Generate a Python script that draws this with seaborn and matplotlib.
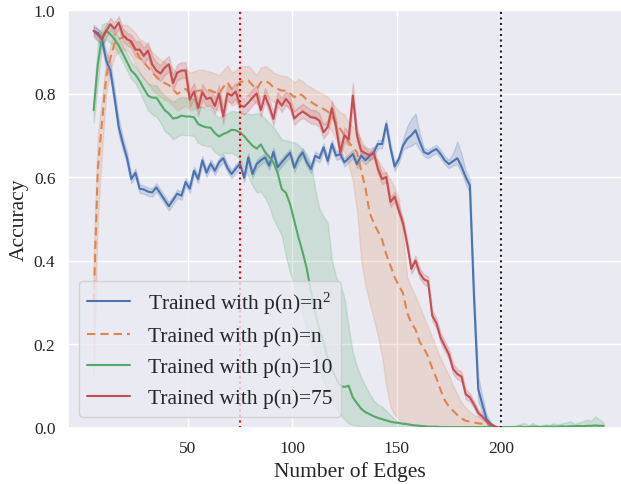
import numpy as np
import pandas as pd
import matplotlib
matplotlib.use("Agg")
import matplotlib.pyplot as plt
import seaborn as sns

# ---------------- data ----------------
x_main = list(range(5, 200, 2))      # 5 .. 199
x_green = list(range(5, 250, 2))     # 5 .. 249

labels = ["Trained with p(n)=n$^2$", "Trained with p(n)=n",
          "Trained with p(n)=10", "Trained with p(n)=75"]
colors = ["#4C72B0", "#DD8452", "#55A868", "#C44E52"]

blue_mean = [0.950, 0.945, 0.930, 0.880, 0.855, 0.790, 0.720, 0.680, 0.645, 0.595,
             0.610, 0.572, 0.570, 0.565, 0.563, 0.575, 0.560, 0.545, 0.530, 0.545,
             0.560, 0.555, 0.588, 0.572, 0.615, 0.595, 0.640, 0.610, 0.632, 0.615,
             0.635, 0.645, 0.622, 0.607, 0.620, 0.632, 0.598, 0.647, 0.607, 0.631,
             0.640, 0.647, 0.627, 0.660, 0.623, 0.635, 0.647, 0.658, 0.622, 0.645,
             0.659, 0.635, 0.619, 0.651, 0.645, 0.671, 0.638, 0.679, 0.651, 0.655,
             0.635, 0.645, 0.655, 0.631, 0.651, 0.640, 0.650, 0.659, 0.679, 0.679,
             0.727, 0.670, 0.625, 0.643, 0.675, 0.691, 0.700, 0.712, 0.685, 0.660,
             0.655, 0.662, 0.667, 0.655, 0.640, 0.631, 0.638, 0.645, 0.625, 0.600,
             0.580, 0.310, 0.092, 0.055, 0.020, 0.008, 0.002, 0.000]
blue_up = [0.010, 0.010, 0.015, 0.020, 0.020, 0.020, 0.020, 0.015, 0.015, 0.010,
           0.010, 0.010, 0.010, 0.010, 0.010, 0.010, 0.010, 0.010, 0.010, 0.010,
           0.010, 0.010, 0.010, 0.010, 0.010, 0.010, 0.010, 0.010, 0.010, 0.010,
           0.010, 0.010, 0.010, 0.010, 0.010, 0.010, 0.010, 0.010, 0.010, 0.010,
           0.010, 0.010, 0.010, 0.010, 0.010, 0.010, 0.010, 0.010, 0.010, 0.010,
           0.010, 0.010, 0.010, 0.010, 0.010, 0.010, 0.010, 0.010, 0.010, 0.010,
           0.010, 0.010, 0.010, 0.010, 0.010, 0.010, 0.010, 0.010, 0.010, 0.010,
           0.010, 0.010, 0.010, 0.010, 0.015, 0.030, 0.040, 0.040, 0.020, 0.010,
           0.010, 0.010, 0.010, 0.010, 0.010, 0.010, 0.020, 0.040, 0.030, 0.015,
           0.015, 0.030, 0.030, 0.020, 0.010, 0.005, 0.002, 0.000]
blue_dn = [0.010, 0.015, 0.020, 0.020, 0.020, 0.020, 0.020, 0.015, 0.015, 0.010,
           0.010, 0.010, 0.010, 0.010, 0.010, 0.010, 0.010, 0.010, 0.010, 0.010,
           0.010, 0.010, 0.010, 0.010, 0.010, 0.010, 0.010, 0.010, 0.010, 0.010,
           0.010, 0.010, 0.010, 0.010, 0.010, 0.010, 0.010, 0.010, 0.010, 0.010,
           0.010, 0.010, 0.010, 0.010, 0.010, 0.010, 0.010, 0.010, 0.010, 0.010,
           0.010, 0.010, 0.010, 0.010, 0.010, 0.010, 0.010, 0.010, 0.010, 0.010,
           0.010, 0.010, 0.010, 0.010, 0.010, 0.010, 0.010, 0.010, 0.010, 0.010,
           0.010, 0.010, 0.010, 0.010, 0.010, 0.020, 0.025, 0.030, 0.020, 0.010,
           0.010, 0.010, 0.010, 0.010, 0.010, 0.010, 0.010, 0.015, 0.015, 0.015,
           0.020, 0.030, 0.030, 0.020, 0.010, 0.005, 0.002, 0.000]

orange_mean = [0.300, 0.620, 0.730, 0.840, 0.885, 0.920, 0.930, 0.935, 0.934, 0.920,
               0.905, 0.885, 0.875, 0.863, 0.850, 0.840, 0.831, 0.825, 0.820, 0.810,
               0.799, 0.805, 0.811, 0.800, 0.803, 0.807, 0.807, 0.809, 0.807, 0.803,
               0.799, 0.815, 0.827, 0.811, 0.815, 0.827, 0.830, 0.831, 0.820, 0.810,
               0.827, 0.831, 0.825, 0.815, 0.811, 0.807, 0.807, 0.800, 0.791, 0.800,
               0.795, 0.785, 0.780, 0.773, 0.768, 0.763, 0.757, 0.745, 0.730, 0.715,
               0.700, 0.683, 0.672, 0.659, 0.615, 0.575, 0.515, 0.490, 0.470, 0.450,
               0.415, 0.388, 0.360, 0.340, 0.322, 0.275, 0.250, 0.235, 0.205, 0.190,
               0.170, 0.142, 0.118, 0.090, 0.065, 0.050, 0.040, 0.030, 0.022, 0.016,
               0.014, 0.012, 0.010, 0.009, 0.008, 0.005, 0.002, 0.000]
orange_up = [0.120, 0.080, 0.060, 0.040, 0.030, 0.030, 0.030, 0.030, 0.030, 0.035,
             0.040, 0.045, 0.050, 0.050, 0.050, 0.050, 0.050, 0.050, 0.050, 0.050,
             0.050, 0.050, 0.050, 0.050, 0.050, 0.050, 0.050, 0.045, 0.045, 0.045,
             0.045, 0.040, 0.040, 0.040, 0.040, 0.040, 0.035, 0.035, 0.035, 0.035,
             0.035, 0.035, 0.035, 0.035, 0.035, 0.035, 0.035, 0.035, 0.035, 0.035,
             0.035, 0.035, 0.035, 0.035, 0.035, 0.035, 0.035, 0.035, 0.035, 0.040,
             0.050, 0.047, 0.048, 0.051, 0.075, 0.095, 0.145, 0.160, 0.170, 0.175,
             0.195, 0.207, 0.215, 0.210, 0.138, 0.085, 0.085, 0.080, 0.085, 0.075,
             0.070, 0.073, 0.072, 0.075, 0.080, 0.075, 0.060, 0.050, 0.038, 0.032,
             0.024, 0.018, 0.015, 0.011, 0.007, 0.005, 0.002, 0.000]
orange_dn = [0.180, 0.120, 0.070, 0.040, 0.030, 0.030, 0.030, 0.030, 0.030, 0.030,
             0.035, 0.035, 0.040, 0.040, 0.040, 0.040, 0.040, 0.040, 0.040, 0.040,
             0.040, 0.040, 0.040, 0.040, 0.040, 0.040, 0.040, 0.040, 0.040, 0.040,
             0.040, 0.040, 0.040, 0.040, 0.040, 0.035, 0.035, 0.035, 0.035, 0.035,
             0.035, 0.035, 0.035, 0.035, 0.035, 0.035, 0.035, 0.035, 0.035, 0.035,
             0.035, 0.035, 0.035, 0.035, 0.035, 0.035, 0.035, 0.035, 0.040, 0.045,
             0.040, 0.053, 0.082, 0.139, 0.215, 0.235, 0.215, 0.230, 0.250, 0.280,
             0.315, 0.338, 0.330, 0.320, 0.307, 0.265, 0.242, 0.229, 0.200, 0.186,
             0.167, 0.140, 0.116, 0.089, 0.064, 0.050, 0.040, 0.030, 0.022, 0.016,
             0.014, 0.012, 0.010, 0.009, 0.008, 0.005, 0.002, 0.000]

green_mean = [0.760, 0.870, 0.935, 0.950, 0.942, 0.930, 0.915, 0.895, 0.875, 0.855,
              0.845, 0.830, 0.812, 0.795, 0.790, 0.790, 0.775, 0.760, 0.752, 0.740,
              0.742, 0.747, 0.745, 0.745, 0.743, 0.727, 0.722, 0.719, 0.718, 0.705,
              0.697, 0.703, 0.707, 0.713, 0.712, 0.707, 0.698, 0.686, 0.675, 0.668,
              0.678, 0.660, 0.648, 0.635, 0.610, 0.571, 0.562, 0.535, 0.495, 0.455,
              0.420, 0.380, 0.325, 0.275, 0.235, 0.205, 0.165, 0.140, 0.118, 0.100,
              0.097, 0.100, 0.072, 0.058, 0.045, 0.037, 0.032, 0.027, 0.023, 0.020,
              0.017, 0.014, 0.012, 0.011, 0.009, 0.008, 0.006, 0.005, 0.004, 0.003,
              0.002, 0.002, 0.002, 0.001, 0.001, 0.001, 0.001, 0.001, 0.001, 0.001,
              0.001, 0.001, 0.001, 0.001, 0.001, 0.001, 0.001, 0.001, 0.001, 0.001,
              0.001, 0.001, 0.002, 0.001, 0.001, 0.002, 0.002, 0.001, 0.002, 0.002,
              0.002, 0.002, 0.003, 0.002, 0.003, 0.003, 0.004, 0.003, 0.004, 0.004,
              0.005, 0.004, 0.004]
green_up = [0.030, 0.050, 0.030, 0.020, 0.020, 0.020, 0.020, 0.020, 0.020, 0.020,
            0.020, 0.020, 0.025, 0.030, 0.030, 0.030, 0.030, 0.035, 0.035, 0.040,
            0.045, 0.045, 0.045, 0.045, 0.045, 0.045, 0.045, 0.045, 0.045, 0.045,
            0.045, 0.045, 0.045, 0.045, 0.045, 0.048, 0.055, 0.065, 0.075, 0.085,
            0.072, 0.080, 0.082, 0.085, 0.095, 0.119, 0.126, 0.150, 0.188, 0.222,
            0.247, 0.275, 0.310, 0.295, 0.290, 0.300, 0.325, 0.260, 0.242, 0.240,
            0.213, 0.140, 0.108, 0.087, 0.075, 0.063, 0.048, 0.038, 0.032, 0.030,
            0.023, 0.016, 0.008, 0.003, 0.002, 0.002, 0.002, 0.002, 0.002, 0.002,
            0.002, 0.002, 0.002, 0.002, 0.002, 0.002, 0.002, 0.002, 0.002, 0.002,
            0.002, 0.002, 0.002, 0.002, 0.002, 0.002, 0.002, 0.002, 0.002, 0.002,
            0.003, 0.004, 0.006, 0.010, 0.004, 0.009, 0.003, 0.004, 0.006, 0.004,
            0.008, 0.005, 0.007, 0.010, 0.012, 0.006, 0.008, 0.012, 0.015, 0.012,
            0.022, 0.015, 0.008]
green_dn = [0.030, 0.050, 0.020, 0.020, 0.020, 0.020, 0.020, 0.020, 0.020, 0.020,
            0.020, 0.025, 0.030, 0.035, 0.040, 0.045, 0.045, 0.050, 0.050, 0.050,
            0.045, 0.045, 0.045, 0.045, 0.045, 0.045, 0.045, 0.045, 0.045, 0.045,
            0.045, 0.045, 0.050, 0.055, 0.060, 0.065, 0.075, 0.085, 0.095, 0.105,
            0.113, 0.110, 0.118, 0.135, 0.130, 0.111, 0.152, 0.165, 0.155, 0.145,
            0.150, 0.150, 0.125, 0.105, 0.095, 0.095, 0.080, 0.080, 0.073, 0.070,
            0.077, 0.090, 0.066, 0.054, 0.042, 0.035, 0.031, 0.026, 0.022, 0.019,
            0.016, 0.013, 0.011, 0.010, 0.008, 0.007, 0.005, 0.004, 0.003, 0.002,
            0.002, 0.002, 0.002, 0.001, 0.001, 0.001, 0.001, 0.001, 0.001, 0.001,
            0.001, 0.001, 0.001, 0.001, 0.001, 0.001, 0.001, 0.001, 0.001, 0.001,
            0.001, 0.001, 0.002, 0.001, 0.001, 0.002, 0.002, 0.001, 0.002, 0.002,
            0.002, 0.002, 0.003, 0.002, 0.003, 0.003, 0.004, 0.003, 0.004, 0.004,
            0.005, 0.004, 0.004]

red_mean = [0.950, 0.940, 0.930, 0.950, 0.966, 0.955, 0.970, 0.940, 0.930, 0.925,
            0.905, 0.905, 0.890, 0.903, 0.870, 0.855, 0.848, 0.862, 0.870, 0.825,
            0.850, 0.855, 0.855, 0.785, 0.805, 0.765, 0.803, 0.787, 0.790, 0.770,
            0.800, 0.745, 0.800, 0.795, 0.805, 0.772, 0.768, 0.778, 0.790, 0.800,
            0.760, 0.795, 0.770, 0.739, 0.785, 0.771, 0.787, 0.775, 0.740, 0.750,
            0.757, 0.750, 0.743, 0.742, 0.735, 0.707, 0.720, 0.765, 0.720, 0.658,
            0.700, 0.690, 0.795, 0.700, 0.663, 0.657, 0.652, 0.658, 0.620, 0.595,
            0.600, 0.540, 0.553, 0.520, 0.490, 0.440, 0.380, 0.400, 0.370, 0.355,
            0.350, 0.268, 0.250, 0.215, 0.195, 0.175, 0.140, 0.128, 0.122, 0.080,
            0.072, 0.055, 0.035, 0.026, 0.015, 0.006, 0.002, 0.000]
red_up = [0.015, 0.015, 0.015, 0.015, 0.015, 0.015, 0.015, 0.015, 0.015, 0.015,
          0.020, 0.020, 0.020, 0.020, 0.020, 0.020, 0.020, 0.020, 0.020, 0.020,
          0.020, 0.020, 0.020, 0.020, 0.020, 0.020, 0.020, 0.020, 0.020, 0.020,
          0.020, 0.020, 0.020, 0.020, 0.020, 0.020, 0.020, 0.020, 0.020, 0.020,
          0.018, 0.018, 0.018, 0.018, 0.018, 0.018, 0.018, 0.018, 0.018, 0.018,
          0.018, 0.018, 0.018, 0.018, 0.018, 0.018, 0.018, 0.018, 0.018, 0.018,
          0.018, 0.018, 0.030, 0.018, 0.015, 0.015, 0.015, 0.015, 0.015, 0.015,
          0.012, 0.012, 0.012, 0.012, 0.012, 0.012, 0.012, 0.012, 0.012, 0.012,
          0.012, 0.012, 0.012, 0.012, 0.012, 0.012, 0.012, 0.012, 0.012, 0.012,
          0.010, 0.008, 0.008, 0.006, 0.005, 0.004, 0.002, 0.000]
red_dn = [0.015, 0.015, 0.015, 0.015, 0.015, 0.015, 0.015, 0.015, 0.015, 0.015,
          0.018, 0.018, 0.018, 0.018, 0.018, 0.018, 0.018, 0.018, 0.018, 0.018,
          0.018, 0.018, 0.018, 0.018, 0.018, 0.018, 0.018, 0.018, 0.018, 0.018,
          0.018, 0.018, 0.018, 0.018, 0.018, 0.018, 0.018, 0.018, 0.018, 0.018,
          0.015, 0.015, 0.015, 0.015, 0.015, 0.015, 0.015, 0.015, 0.015, 0.015,
          0.015, 0.015, 0.015, 0.015, 0.015, 0.015, 0.015, 0.015, 0.015, 0.015,
          0.015, 0.015, 0.025, 0.015, 0.012, 0.012, 0.012, 0.012, 0.012, 0.012,
          0.012, 0.012, 0.012, 0.012, 0.012, 0.012, 0.012, 0.012, 0.012, 0.012,
          0.012, 0.012, 0.012, 0.012, 0.012, 0.012, 0.012, 0.012, 0.012, 0.012,
          0.010, 0.008, 0.008, 0.006, 0.005, 0.004, 0.002, 0.000]

vline_p10 = 75
vline_max = 200

# ---------------- build long-form table ----------------
series = [
    (labels[0], x_main, blue_mean, blue_dn, blue_up),
    (labels[1], x_main, orange_mean, orange_dn, orange_up),
    (labels[2], x_green, green_mean, green_dn, green_up),
    (labels[3], x_main, red_mean, red_dn, red_up),
]
rows = []
for name, xs, m, dn, up in series:
    assert len(xs) == len(m) == len(dn) == len(up), name
    for xv, mv, d, u in zip(xs, m, dn, up):
        rows.append((name, xv, max(mv - d, 0.0)))
        rows.append((name, xv, mv))
        rows.append((name, xv, mv + u))
df = pd.DataFrame(rows, columns=["series", "edges", "acc"])

# ---------------- plot ----------------
sns.set_theme(style="darkgrid")
plt.rcParams["font.family"] = ["Liberation Serif", "DejaVu Serif"]
plt.rcParams["mathtext.fontset"] = "custom"
plt.rcParams["mathtext.rm"] = "Liberation Serif"
plt.rcParams["mathtext.it"] = "Liberation Serif:italic"

fig = plt.figure(figsize=(6.21, 4.85), dpi=100)
ax = fig.add_axes([68 / 621, 56.5 / 485, 563 / 621, 417.5 / 485])

sns.lineplot(data=df, x="edges", y="acc", hue="series", style="series",
             hue_order=labels, style_order=labels, palette=colors,
             dashes={labels[0]: "", labels[1]: (4, 2.4), labels[2]: "", labels[3]: ""},
             estimator="median", errorbar=("pi", 100), linewidth=1.5, ax=ax)

ax.axvline(vline_p10, color="red", linestyle=":", linewidth=1.5)
ax.axvline(vline_max, color="#222222", linestyle=":", linewidth=1.5)

ax.set_xlim(-7.27, 262.1)
ax.set_ylim(0.0, 1.0)
ax.set_xticks([50, 100, 150, 200])
ax.set_yticks([0.0, 0.2, 0.4, 0.6, 0.8, 1.0])
ax.set_yticklabels(["0.0", "0.2", "0.4", "0.6", "0.8", "1.0"])
ax.tick_params(axis="both", labelsize=12.5, length=0, pad=9, colors="#262626")
ax.set_xlabel("Number of Edges", fontsize=15.5, color="#262626")
ax.set_ylabel("Accuracy", fontsize=15.5, color="#262626")

handles, labs = ax.get_legend_handles_labels()
ax.legend(handles, labs, loc="lower left", fontsize=15.5, frameon=True)

fig.savefig("out.png", dpi=100)
